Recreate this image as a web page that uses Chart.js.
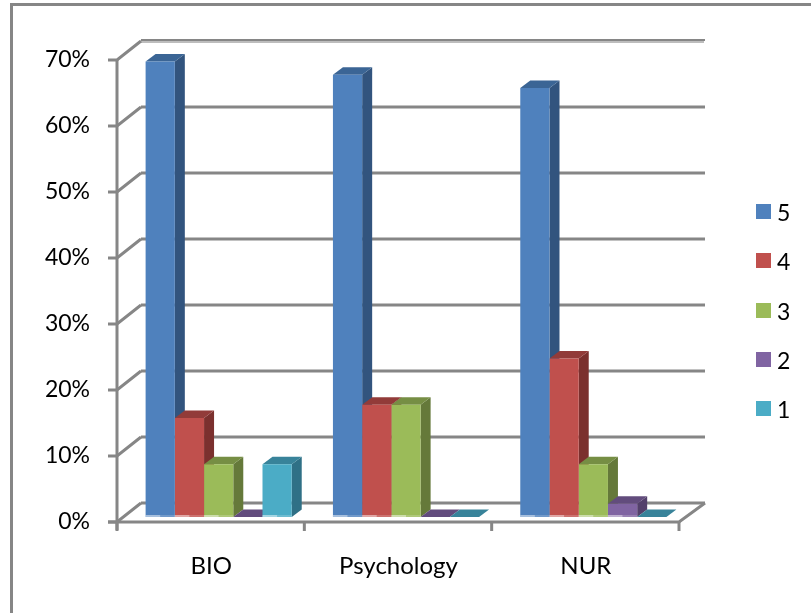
<!DOCTYPE html>
<html>
<head>
<meta charset="utf-8">
<script src="https://cdn.jsdelivr.net/npm/chart.js@4"></script>
<style>
  html, body { margin: 0; padding: 0; background: #fff; }
  #wrap { position: relative; width: 811px; height: 613px; overflow: hidden; }
  #frame { position: absolute; left: 10px; top: 3px; width: 900px; height: 900px; border: 3px solid #868686; box-sizing: border-box; }
  canvas { position: absolute; left: 0; top: 0; }
  .key { position: absolute; left: 756px; font: 23px Lato, sans-serif; line-height: 22px; color: #000; }
  .key i { position: absolute; left: 0; top: 3px; width: 15px; height: 15px; }
  .key span { position: absolute; left: 21px; top: 0; }
</style>
</head>
<body>
<div id="wrap">
  <div id="frame"></div>
  <canvas id="chart" width="811" height="613"></canvas>
  <div id="legend"></div>
</div>
<script>
const categories = ['BIO', 'Psychology', 'NUR'];
const seriesNames = ['5', '4', '3', '2', '1'];
const series5 = [69, 67, 65];
const series4 = [15, 17, 24];
const series3 = [8, 17, 8];
const series2 = [0, 0, 2];
const series1 = [8, 0, 0];
const allSeries = [series5, series4, series3, series2, series1];
const frontColors = ['#4F81BD', '#C0504D', '#9BBB59', '#8064A2', '#4BACC6'];
const sideColors = ['#32547E', '#7B302E', '#65793A', '#53406B', '#2F7086'];
const topColors = ['#3B6595', '#923B39', '#768E44', '#624C7D', '#38839A'];
const yTicks = [0, 10, 20, 30, 40, 50, 60, 70];

const gridColor = '#868686';
const wallDx = 24, wallDy = 19;   // depth of the 3d walls
const barDx = 10, barDy = 7.5;    // depth of the bars

// the walls, floor and axis lines of the 3d box
function drawWalls(c, chart) {
    const y = chart.scales.y;
    const left = 117, right = 679;
    const zero = y.getPixelForValue(0);
    c.lineCap = 'butt';
    c.lineWidth = 3;
    yTicks.forEach(v => {
        const py = y.getPixelForValue(v);
        c.strokeStyle = gridColor;
        if (v === 70) {
            // top line is dark with a pale edge under it
            c.lineWidth = 2;
            c.beginPath();
            c.moveTo(left + wallDx, py - wallDy - 1);
            c.lineTo(right + wallDx + 2, py - wallDy - 1);
            c.stroke();
            c.strokeStyle = '#BDBDBD';
            c.beginPath();
            c.moveTo(left + wallDx, py - wallDy + 1);
            c.lineTo(right + wallDx + 1, py - wallDy + 1);
            c.stroke();
            c.lineWidth = 3;
            c.strokeStyle = gridColor;
        } else {
            c.beginPath();
            c.moveTo(left + wallDx, py - wallDy);
            c.lineTo(right + wallDx + 2, py - wallDy);
            c.stroke();
        }
        c.beginPath();
        c.moveTo(108, py);
        c.lineTo(left, py);
        c.lineTo(left + wallDx, py - wallDy);
        c.stroke();
    });
    c.strokeStyle = gridColor;
    // left axis
    c.beginPath();
    c.moveTo(left, y.getPixelForValue(70));
    c.lineTo(left, zero + 8);
    c.stroke();
    // floor
    c.beginPath();
    c.moveTo(108, zero);
    c.lineTo(right, zero);
    c.lineTo(right + wallDx + 2, zero - wallDy);
    c.stroke();
    // ticks under the floor, one per category edge
    const step = (right - left) / categories.length;
    for (let i = 0; i <= categories.length; i++) {
        const px = left + step * i;
        c.beginPath();
        c.moveTo(px, zero);
        c.lineTo(px, zero + 9);
        c.stroke();
    }
}

function face(c, color, pts) {
    c.fillStyle = color;
    c.beginPath();
    pts.forEach((p, i) => i ? c.lineTo(p[0], p[1]) : c.moveTo(p[0], p[1]));
    c.closePath();
    c.fill();
}

const box3d = {
    id: 'box3d',
    beforeDatasetsDraw(chart) {
        const c = chart.ctx;
        c.save();
        drawWalls(c, chart);
        // side and top faces, left to right, so a bar hides its left neighbour's side
        categories.forEach((cat, j) => {
            allSeries.forEach((vals, i) => {
                const b = chart.getDatasetMeta(i).data[j];
                const l = b.x - b.width / 2, r = b.x + b.width / 2;
                face(c, sideColors[i], [[r, b.y], [r + barDx, b.y - barDy], [r + barDx, b.base - barDy], [r, b.base]]);
                face(c, topColors[i], [[l, b.y], [r, b.y], [r + barDx, b.y - barDy], [l + barDx, b.y - barDy]]);
            });
        });
        c.restore();
    },
    afterDatasetsDraw(chart) {
        // pale strip along the foot of each bar
        const c = chart.ctx;
        c.save();
        categories.forEach((cat, j) => {
            allSeries.forEach((vals, i) => {
                if (vals[j] === 0) return;
                const b = chart.getDatasetMeta(i).data[j];
                const l = b.x - b.width / 2;
                c.fillStyle = 'rgba(255,255,255,0.5)';
                c.fillRect(l, b.base - 2, b.width / 2, 2);
                c.fillStyle = 'rgba(255,255,255,0.2)';
                c.fillRect(l + b.width / 2, b.base - 2, b.width / 2, 2);
            });
        });
        c.restore();
    }
};

new Chart(document.getElementById('chart'), {
    type: 'bar',
    data: {
        labels: categories,
        datasets: seriesNames.map((name, i) => ({
            label: name,
            data: allSeries[i],
            backgroundColor: frontColors[i],
            borderWidth: 0,
            yAxisID: 'barY',
            barPercentage: 1,
            categoryPercentage: 0.78
        }))
    },
    options: {
        responsive: false,
        animation: false,
        layout: { padding: { top: 60, right: 124, left: 0, bottom: 0 } },
        plugins: { legend: { display: false }, tooltip: { enabled: false } },
        scales: {
            x: {
                grid: { display: false },
                border: { display: false },
                ticks: {
                    color: '#000',
                    font: { family: 'Lato', size: 24 },
                    padding: 22,
                    labelOffset: -7.5,
                    maxRotation: 0
                },
                afterFit: s => { s.height = 91; }
            },
            y: {
                min: 0,
                max: 70,
                grid: { display: false },
                border: { display: false },
                afterBuildTicks: s => { s.ticks = yTicks.map(v => ({ value: v })); },
                ticks: {
                    color: '#000',
                    font: { family: 'Lato', size: 23 },
                    padding: 27,
                    callback: v => v + '%'
                },
                afterFit: s => { s.width = 125; }
            },
            // bars stand a little in from the front edge of the floor
            barY: {
                display: false,
                min: -0.76,
                max: 69.24
            }
        }
    },
    plugins: [box3d]
});

document.getElementById('legend').innerHTML = seriesNames.map((name, i) =>
    `<div class="key" style="top:${201 + i * 49.3}px"><i style="background:${frontColors[i]}"></i><span>${name}</span></div>`
).join('');
</script>
</body>
</html>
